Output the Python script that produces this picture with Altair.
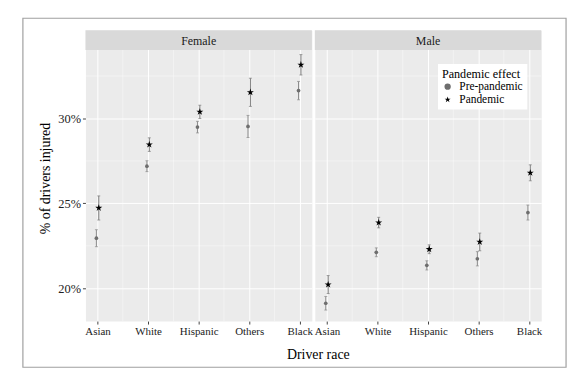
import altair as alt
import pandas as pd

# ---- data ----
races = ["Asian", "White", "Hispanic", "Others", "Black"]
sexes = ["Female", "Male"]
effects = ["Pre-pandemic", "Pandemic"]

female_pre = [22.95, 27.19, 29.49, 29.53, 31.64]
female_pre_err = [0.50, 0.32, 0.34, 0.65, 0.54]
female_pan = [24.73, 28.46, 30.39, 31.54, 33.16]
female_pan_err = [0.71, 0.40, 0.39, 0.83, 0.60]

male_pre = [19.12, 22.12, 21.35, 21.74, 24.46]
male_pre_err = [0.40, 0.26, 0.27, 0.42, 0.44]
male_pan = [20.22, 23.87, 22.30, 22.73, 26.80]
male_pan_err = [0.53, 0.31, 0.26, 0.52, 0.47]

y_ticks = [20, 25, 30]
y_minor = [22.5, 27.5, 32.5]
x_minor = [1.5, 2.5, 3.5, 4.5]

rows = []
series = {
    "Female": (female_pre, female_pre_err, female_pan, female_pan_err),
    "Male": (male_pre, male_pre_err, male_pan, male_pan_err),
}
for sex in sexes:
    pre, pre_e, pan, pan_e = series[sex]
    for i, r in enumerate(races):
        rows.append(dict(sex=sex, race=r, effect="Pre-pandemic", pct=pre[i], err=pre_e[i]))
        rows.append(dict(sex=sex, race=r, effect="Pandemic", pct=pan[i], err=pan_e[i]))
df = pd.DataFrame(rows)

FONT = "Liberation Serif"
W, H = 228, 293
STAR = "M0,-1L0.2245,-0.309L0.951,-0.309L0.363,0.118L0.588,0.809L0,0.382L-0.588,0.809L-0.363,0.118L-0.951,-0.309L-0.2245,-0.309Z"
races_js = "[" + ",".join("'" + r + "'" for r in races) + "]"

xscale = alt.Scale(domain=[0.76, 5.24], nice=False, zero=False)
yscale = alt.Scale(domain=[18.07, 35.2], nice=False, zero=False)

color_scale = alt.Scale(domain=effects, range=["#6e6e6e", "#000000"])
shape_scale = alt.Scale(domain=effects, range=["circle", STAR])
legend = alt.Legend(title="Pandemic effect", orient="none", legendX=355, legendY=34)


def panel(sex, left):
    base = alt.Chart(df).transform_filter(alt.datum.sex == sex).transform_calculate(
        idx=f"indexof({races_js}, datum.race) + 1",
        lo="datum.pct - datum.err",
        hi="datum.pct + datum.err",
    )
    xaxis = alt.Axis(
        values=[1, 2, 3, 4, 5],
        labelExpr=f"{races_js}[datum.value - 1]",
        labelFontSize=11,
        title="Driver race" if left else "",
        titleX=234, titleY=34, titleBaseline="middle", titleAlign="center",
    )
    if left:
        yaxis = alt.Axis(
            values=y_ticks, labelExpr="datum.value + '%'", labelFontSize=12.5,
            title="% of drivers injured",
            titleX=-40, titleY=149, titleAngle=270, titleAlign="center",
            titleBaseline="middle",
        )
    else:
        yaxis = alt.Axis(values=y_ticks, labels=False, ticks=False, title="")

    def X(f):
        return alt.X(f, scale=xscale, axis=xaxis)

    def Y(f):
        return alt.Y(f, scale=yscale, axis=yaxis)

    vgrid = alt.Chart(pd.DataFrame({"v": x_minor})).mark_rule(
        color="white", strokeWidth=0.5, opacity=0.8
    ).encode(x=X("v:Q"))
    hgrid = alt.Chart(pd.DataFrame({"v": y_minor})).mark_rule(
        color="white", strokeWidth=0.5, opacity=0.8
    ).encode(y=Y("v:Q"))

    strip_df = pd.DataFrame({"sex": [sex]})
    strip = alt.Chart(strip_df).mark_rect(color="#d9d9d9").encode(
        x=alt.value(0), x2=alt.value(W), y=alt.value(0), y2=alt.value(20)
    )
    strip_txt = alt.Chart(strip_df).mark_text(
        font=FONT, fontSize=12, color="#1a1a1a", baseline="middle"
    ).encode(x=alt.value(W / 2), y=alt.value(10.5), text="sex:N")

    layers = [vgrid, hgrid, strip, strip_txt]

    for eff, off, ecol in [("Pre-pandemic", -1.2, "#8a8a8a"), ("Pandemic", 1.2, "#7a7a7a")]:
        b = base.transform_filter(alt.datum.effect == eff)
        layers.append(b.mark_rule(color=ecol, strokeWidth=1, xOffset=off).encode(
            x=X("idx:Q"), y=Y("lo:Q"), y2="hi:Q"))
        layers.append(b.mark_tick(color=ecol, orient="horizontal", size=3, thickness=1, xOffset=off).encode(
            x=X("idx:Q"), y=Y("lo:Q")))
        layers.append(b.mark_tick(color=ecol, orient="horizontal", size=3, thickness=1, xOffset=off).encode(
            x=X("idx:Q"), y=Y("hi:Q")))

    for eff, off, size in [("Pre-pandemic", -1.2, 14), ("Pandemic", 1.2, 55)]:
        b = base.transform_filter(alt.datum.effect == eff)
        layers.append(b.mark_point(filled=True, opacity=1, size=size, xOffset=off).encode(
            x=X("idx:Q"), y=Y("pct:Q"),
            color=alt.Color("effect:N", scale=color_scale, legend=legend),
            shape=alt.Shape("effect:N", scale=shape_scale, legend=legend),
        ))

    if left:
        frame = alt.Chart(strip_df).mark_rect(
            fill="transparent", stroke="#a0a0a0", strokeWidth=1.2
        ).encode(x=alt.value(-63), x2=alt.value(484), y=alt.value(-12), y2=alt.value(339.5))
        layers.append(frame)
    return alt.layer(*layers).properties(width=W, height=H)


chart = alt.hconcat(
    panel("Female", True), panel("Male", False), spacing=3, bounds="flush"
).properties(
    padding={"left": 13, "top": 7, "right": 5, "bottom": 5}, background="white"
).configure_view(
    fill="#ebebeb", stroke="transparent"
).configure_axis(
    grid=True, gridColor="white", gridWidth=1, domain=False,
    tickSize=3, tickColor="#444", labelFont=FONT, labelColor="#222", labelPadding=2,
    titleFont=FONT, titleFontSize=14, titleFontWeight="normal", titleColor="#000",
).configure_legend(
    fillColor="white", padding=4, titleFont=FONT, titleFontSize=12.2,
    titleFontWeight="normal", titleColor="#000", titlePadding=1,
    labelFont=FONT, labelFontSize=11.5, labelColor="#000", rowPadding=0,
    symbolSize=40, labelOffset=6, symbolStrokeWidth=0,
)

chart.save("out.html", embed_options={"renderer": "svg", "actions": False})
